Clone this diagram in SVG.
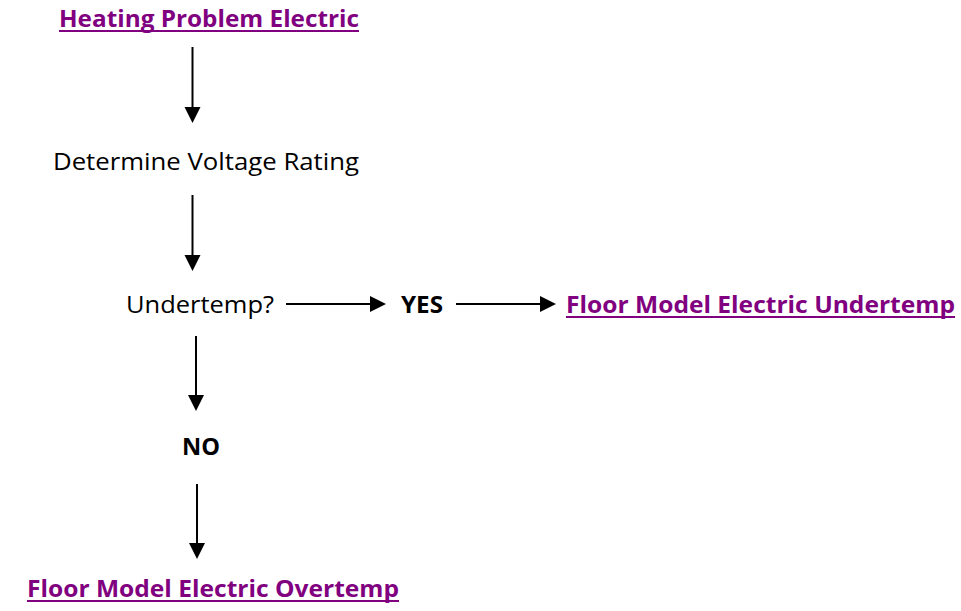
<svg xmlns="http://www.w3.org/2000/svg" width="961" height="611" viewBox="0 0 961 611">
<defs>
<style>
text{font-family:"Open Sans","Noto Sans","Liberation Sans",sans-serif;font-size:24px;fill:#000}
.b{font-weight:bold}
.link{font-weight:bold;fill:#800080}
.ul{stroke:#800080;stroke-width:2}
.c{stroke:#000;stroke-width:2;fill:none}
.h{fill:#000}
</style>
</defs>
<rect width="961" height="611" fill="#fff"/>
<g id="n-heating">
<text class="link" x="59" y="27" textLength="300" lengthAdjust="spacingAndGlyphs">Heating Problem Electric</text>
<line class="ul" x1="59" y1="31" x2="359" y2="31"/>
</g>
<g id="n-voltage">
<text x="53" y="170" textLength="306" lengthAdjust="spacingAndGlyphs">Determine Voltage Rating</text>
</g>
<g id="n-undertemp">
<text x="126" y="313" textLength="148" lengthAdjust="spacingAndGlyphs">Undertemp?</text>
</g>
<g id="n-yes">
<text class="b" x="401" y="313" textLength="42" lengthAdjust="spacingAndGlyphs">YES</text>
</g>
<g id="n-floor-under">
<text class="link" x="566" y="313" textLength="389" lengthAdjust="spacingAndGlyphs">Floor Model Electric Undertemp</text>
<line class="ul" x1="566" y1="317" x2="955" y2="317"/>
</g>
<g id="n-no">
<text class="b" x="182" y="455" textLength="38" lengthAdjust="spacingAndGlyphs">NO</text>
</g>
<g id="n-floor-over">
<text class="link" x="27" y="597" textLength="372" lengthAdjust="spacingAndGlyphs">Floor Model Electric Overtemp</text>
<line class="ul" x1="27" y1="601" x2="399" y2="601"/>
</g>
<g id="connectors">
<line class="c" x1="192.5" y1="47" x2="192.5" y2="108"/>
<polygon class="h" points="184.5,107 200.5,107 192.5,123"/>
<line class="c" x1="192.5" y1="195" x2="192.5" y2="256"/>
<polygon class="h" points="184.5,255 200.5,255 192.5,271"/>
<line class="c" x1="286" y1="304" x2="371" y2="304"/>
<polygon class="h" points="370,296 370,312 386,304"/>
<line class="c" x1="456" y1="304" x2="541" y2="304"/>
<polygon class="h" points="540,296 540,312 556,304"/>
<line class="c" x1="196" y1="336" x2="196" y2="396"/>
<polygon class="h" points="188,395 204,395 196,411"/>
<line class="c" x1="197" y1="484" x2="197" y2="544"/>
<polygon class="h" points="189,543 205,543 197,559"/>
</g>
</svg>
